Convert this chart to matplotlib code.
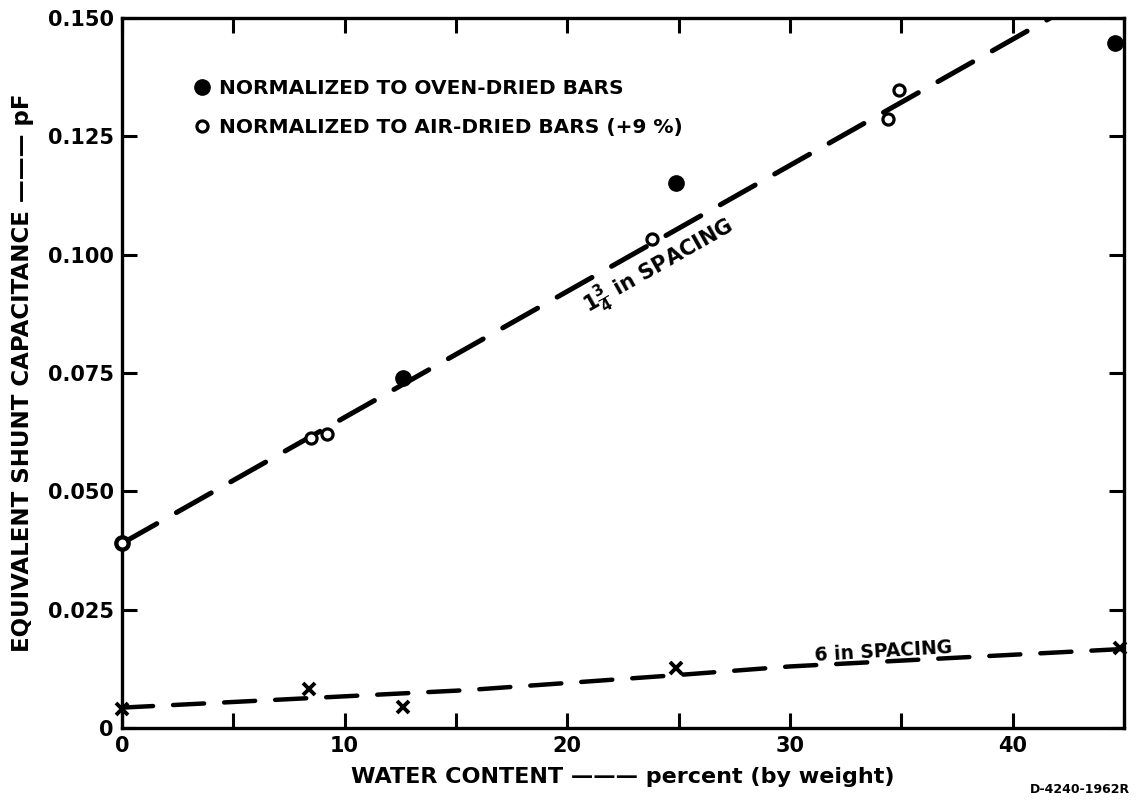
import numpy as np
import matplotlib
matplotlib.use("Agg")
import matplotlib.pyplot as plt
from matplotlib.ticker import FixedLocator, FuncFormatter
from matplotlib.lines import Line2D

# ---- data ----
oven_x = [0.0, 12.6, 24.9, 44.6]
oven_y = [0.039, 0.074, 0.1152, 0.1448]

air_x = [0.0, 8.5, 9.2, 23.8, 34.4, 34.9]
air_y = [0.039, 0.0612, 0.0622, 0.1034, 0.1287, 0.1348]

six_x = [0.0, 8.4, 12.6, 24.9, 44.8]
six_y = [0.0040, 0.0082, 0.0044, 0.0127, 0.0170]

fit134_x = [0.0, 45.0]
fit134_y = [0.0390, 0.1588]

fit6_x = [0.0, 15.5, 25.0, 30.0, 45.0]
fit6_y = [0.0043, 0.0080, 0.0112, 0.0130, 0.0167]

x_ticks = [0, 5, 10, 15, 20, 25, 30, 35, 40, 45]
x_labels = {0: "0", 10: "10", 20: "20", 30: "30", 40: "40"}
y_ticks = [0, 0.025, 0.05, 0.075, 0.1, 0.125, 0.15]

plt.rcParams['font.family'] = ['DejaVu Sans']
plt.rcParams['font.weight'] = 'bold'
plt.rcParams['mathtext.fontset'] = 'dejavusans'
plt.rcParams['mathtext.default'] = 'bf'

fig = plt.figure(figsize=(11.36, 8.06), dpi=100)
ax = fig.add_axes([0.1074, 0.0968, 0.8820, 0.8809])

ax.set_xlim(0, 45)
ax.set_ylim(0, 0.150)

# fitted dashed lines
ax.plot(fit134_x, fit134_y, color='black', lw=3.6, dashes=(8, 4.5),
        dash_capstyle='round', zorder=2)
ax.plot(fit6_x, fit6_y, color='black', lw=3.2, dashes=(7, 4.5),
        dash_capstyle='round', zorder=2)

# data points
ax.plot(oven_x, oven_y, 'o', color='black', ms=11, clip_on=False, zorder=4)
ax.plot(air_x, air_y, 'o', mfc='white', mec='black', ms=8, mew=2.3,
        clip_on=False, zorder=5)
ax.plot(six_x, six_y, 'x', color='black', ms=8, mew=2.8, clip_on=False, zorder=4)

# spines & ticks
for s in ax.spines.values():
    s.set_linewidth(2.4)
ax.xaxis.set_major_locator(FixedLocator(x_ticks))
ax.xaxis.set_major_formatter(FuncFormatter(lambda v, p: x_labels.get(int(round(v)), "")))
ax.yaxis.set_major_locator(FixedLocator(y_ticks))
ax.yaxis.set_major_formatter(FuncFormatter(lambda v, p: "0" if abs(v) < 1e-9 else "%.3f" % v))
ax.tick_params(direction='in', length=11, width=2.2, top=True, right=True,
               labelsize=15, pad=6)
for lab in ax.get_xticklabels() + ax.get_yticklabels():
    lab.set_fontweight('bold')

ax.set_xlabel("WATER CONTENT ——— percent (by weight)", fontsize=16,
              fontweight='bold', labelpad=8)
ax.set_ylabel("EQUIVALENT SHUNT CAPACITANCE ——— pF", fontsize=16.5,
              fontweight='bold', labelpad=10)

# legend
handles = [
    Line2D([], [], marker='o', ls='none', color='black', ms=11),
    Line2D([], [], marker='o', ls='none', mfc='white', mec='black', ms=8, mew=2.3),
]
leg = ax.legend(handles, ["NORMALIZED TO OVEN-DRIED BARS",
                          "NORMALIZED TO AIR-DRIED BARS (+9 %)"],
                loc='upper left', bbox_to_anchor=(0.062, 0.925), frameon=False,
                fontsize=14.5, handletextpad=0.35, labelspacing=1.0,
                handlelength=1.0, borderaxespad=0)
for t in leg.get_texts():
    t.set_fontweight('bold')

# line annotations (rotation follows line slope on screen)
fig.canvas.draw()
p0 = ax.transData.transform((fit134_x[0], fit134_y[0]))
p1 = ax.transData.transform((fit134_x[1], fit134_y[1]))
ang = np.degrees(np.arctan2(p1[1] - p0[1], p1[0] - p0[0]))
ax.text(24.1, 0.0975, r"$1\frac{3}{4}$ in SPACING", rotation=ang,
        rotation_mode='anchor', ha='center', va='center', fontsize=15,
        fontweight='bold')
q0 = ax.transData.transform((fit6_x[0], fit6_y[0]))
q1 = ax.transData.transform((fit6_x[-1], fit6_y[-1]))
ang2 = np.degrees(np.arctan2(q1[1] - q0[1], q1[0] - q0[0]))
ax.text(34.2, 0.0162, "6 in SPACING", rotation=ang2, rotation_mode='anchor',
        ha='center', va='center', fontsize=13.5, fontweight='bold')

fig.text(0.995, 0.012, "D-4240-1962R", ha='right', va='bottom', fontsize=9,
         fontweight='bold')

fig.savefig("out.png", dpi=100, facecolor='white')
